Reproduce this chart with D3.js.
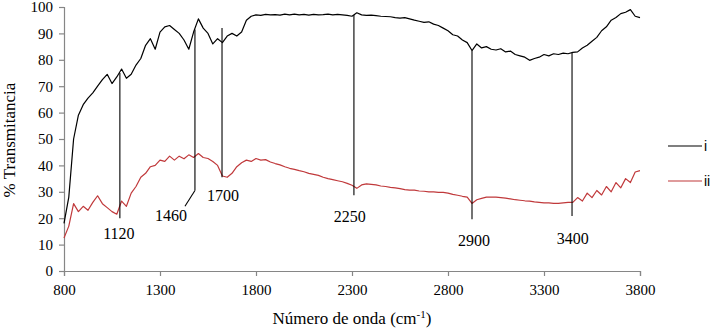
<!DOCTYPE html>
<html>
<head>
<meta charset="utf-8">
<script src="https://cdn.jsdelivr.net/npm/d3@7"></script>
<style>
    body { margin: 0; background: #fff; }
    #chart-area { width: 712px; height: 329px; }
    .serif { font-family: "Liberation Serif", "Times New Roman", "DejaVu Serif", serif; }
</style>
</head>
<body>
<div id="chart-area"></div>
<script>

// wavenumber grid (cm-1), one reading every 25
let waveNumbers = d3.range(800, 3801, 25);

// series i (black)
let seriesI = [
    18, 28, 50, 59, 63, 65.5, 67.5, 70, 72.5, 74.5,
    71, 73.5, 76.5, 73, 74.5, 78, 80.5, 85.5, 88, 84,
    90.5, 92.5, 93, 91.5, 90, 87.5, 84, 90.5, 95.5, 92,
    90, 86, 88, 86.5, 89, 90, 89, 90.5, 95, 96.5,
    97, 96.8, 97.2, 97, 97.1, 96.9, 97.3, 97, 97.3, 97,
    97.2, 96.9, 97.2, 97, 97.1, 97.3, 97, 97.2, 97, 96.8,
    96.5, 97.8, 97, 96.8, 96.9, 96.7, 96.5, 96.4, 96.3, 96,
    95.8, 96, 95.5, 95, 94.6, 94.2, 94.4, 93.5, 93, 92,
    91, 89.5, 89, 87.5, 86.5, 83.5, 86, 84.5, 85, 84,
    83.7, 84.2, 83, 83.3, 82, 81.5, 81, 79.8, 80.5, 81,
    82, 81.5, 82.3, 82, 82.5, 82.3, 82.8, 83, 84.5, 85.5,
    87, 88.5, 91, 92.5, 95, 96, 97.5, 98, 99, 96.5,
    96
];

// series ii (red)
let seriesII = [
    12.5, 17, 25.5, 22.5, 24.5, 23, 26, 28.5, 25.5, 24,
    22.5, 21.5, 26.5, 24.5, 29.5, 32, 35.5, 37, 39.5, 40,
    42, 41.5, 43.5, 42, 43.5, 42.5, 44, 43, 44.5, 43,
    42.6, 41.5, 40, 36, 35.5, 37, 39.5, 41, 42, 41.5,
    42.6, 42, 42.2, 41.3, 40.7, 40.2, 39.5, 38.9, 38.5, 38,
    37.6, 37, 36.6, 36.2, 35.5, 35, 34.6, 34.2, 33.8, 33.2,
    32.5, 31.3, 32.6, 33, 32.8, 32.6, 32.2, 32, 31.7, 31.5,
    31.2, 30.8, 30.6, 30.6, 30.3, 30.2, 30, 30, 29.8, 29.8,
    29.5, 29, 28.7, 28.3, 28, 25.6, 27, 27.5, 28, 28,
    28, 27.8, 27.6, 27.3, 27, 26.8, 26.6, 26.5, 26.2, 26,
    25.8, 25.8, 25.6, 25.6, 25.8, 26, 26, 27.8, 26.5, 29.5,
    27.8, 30.5, 28.8, 32, 30, 33.5, 31.5, 35, 33.5, 37.5,
    38
];

let seriesNames = ["i", "ii"];

let xTicks = [800, 1300, 1800, 2300, 2800, 3300, 3800];
let yTicks = [0, 10, 20, 30, 40, 50, 60, 70, 80, 90, 100];

// band markers: label, line position, top and bottom of line, label position
let bandLabels = ["1120", "1460", "1700", "2250", "2900", "3400"];
let bandX      = [1091, 1482, 1623, 2310, 2925, 3446];
let bandTop    = [75, 91.5, 92, 97, 83.5, 82.7];
let bandBottom = [20, 30.5, 35.5, 28.7, 19.6, 20.8];
let labelX     = [1086, 1357, 1628, 2288, 2935, 3450];
let labelY     = [14.3, 21, 28.7, 20.8, 11.7, 12.5];

class SpectrumChart {

    constructor(parentElement) {
        this.parentElement = parentElement;
        this.initVis();
    }

    initVis() {
        let vis = this;

        vis.width = 712;
        vis.height = 329;

        vis.svg = d3.select("#" + vis.parentElement)
            .append("svg")
            .attr("width", vis.width)
            .attr("height", vis.height);

        vis.x = d3.scaleLinear().domain([800, 3800]).range([64, 640]);
        vis.y = d3.scaleLinear().domain([0, 100]).range([271, 7]);

        let axisColor = "#868686";

        // x axis
        let xAxis = vis.svg.append("g")
            .attr("transform", "translate(0," + vis.y(0) + ")")
            .call(d3.axisBottom(vis.x).tickValues(xTicks).tickSize(5).tickPadding(8).tickFormat(d3.format("d")));

        // y axis
        let yAxis = vis.svg.append("g")
            .attr("transform", "translate(" + vis.x(800) + ",0)")
            .call(d3.axisLeft(vis.y).tickValues(yTicks).tickSize(5).tickPadding(6).tickFormat(d3.format("d")));

        [xAxis, yAxis].forEach(function(ax) {
            ax.attr("font-family", null).attr("font-size", null);
            ax.select(".domain").attr("stroke", axisColor).attr("stroke-width", 1.2);
            ax.selectAll(".tick line").attr("stroke", axisColor).attr("stroke-width", 1.2);
            ax.selectAll(".tick text")
                .attr("class", "serif")
                .attr("fill", "#000")
                .style("font-size", "15px");
        });

        // axis titles
        let xTitle = vis.svg.append("text")
            .attr("class", "serif")
            .attr("x", 352)
            .attr("y", 324)
            .attr("text-anchor", "middle")
            .style("font-size", "17px");
        xTitle.append("tspan").text("Número de onda (cm");
        xTitle.append("tspan").attr("dy", -6).style("font-size", "11px").text("-1");
        xTitle.append("tspan").attr("dy", 6).text(")");

        vis.svg.append("text")
            .attr("class", "serif")
            .attr("transform", "translate(15,140) rotate(-90)")
            .attr("text-anchor", "middle")
            .style("font-size", "17px")
            .text("% Transmitancia");

        // spectra
        vis.line = d3.line()
            .x(function(d) { return vis.x(d.wn); })
            .y(function(d) { return vis.y(d.value); });

        vis.colors = d3.scaleOrdinal().domain(seriesNames).range(["#000000", "#c0393b"]);

        let allSeries = [seriesI, seriesII].map(function(values, i) {
            return {
                name: seriesNames[i],
                points: waveNumbers.map(function(wn, j) { return {wn: wn, value: values[j]}; })
            };
        });

        vis.svg.selectAll(".spectrum")
            .data(allSeries)
            .enter()
            .append("path")
            .attr("class", "spectrum")
            .attr("fill", "none")
            .attr("stroke", function(d) { return vis.colors(d.name); })
            .attr("stroke-width", 1.2)
            .attr("stroke-linejoin", "round")
            .attr("d", function(d) { return vis.line(d.points); });

        // band markers
        let bands = bandLabels.map(function(label, i) {
            return {label: label, x: bandX[i], top: bandTop[i], bottom: bandBottom[i], lx: labelX[i], ly: labelY[i]};
        });

        vis.svg.selectAll(".band")
            .data(bands)
            .enter()
            .append("line")
            .attr("class", "band")
            .attr("x1", function(d) { return vis.x(d.x); })
            .attr("x2", function(d) { return vis.x(d.x); })
            .attr("y1", function(d) { return vis.y(d.top); })
            .attr("y2", function(d) { return vis.y(d.bottom); })
            .attr("stroke", "#000")
            .attr("stroke-width", 1.1);

        // leader from the 1460 line down to its label
        vis.svg.append("line")
            .attr("x1", vis.x(bandX[1]))
            .attr("y1", vis.y(bandBottom[1]))
            .attr("x2", vis.x(1430))
            .attr("y2", vis.y(24.5))
            .attr("stroke", "#000")
            .attr("stroke-width", 1.1);

        vis.svg.selectAll(".band-label")
            .data(bands)
            .enter()
            .append("text")
            .attr("class", "band-label serif")
            .attr("x", function(d) { return vis.x(d.lx); })
            .attr("y", function(d) { return vis.y(d.ly); })
            .attr("dy", "0.35em")
            .attr("text-anchor", "middle")
            .style("font-size", "16px")
            .text(function(d) { return d.label; });

        // legend
        let legend = vis.svg.selectAll(".legend")
            .data(seriesNames)
            .enter()
            .append("g")
            .attr("class", "legend")
            .attr("transform", function(d, i) { return "translate(668," + (146 + i * 35) + ")"; });

        legend.append("line")
            .attr("x1", 0)
            .attr("x2", 34)
            .attr("stroke", function(d) { return vis.colors(d); })
            .attr("stroke-width", 1.2);

        legend.append("text")
            .attr("x", 36)
            .attr("dy", "0.35em")
            .style("font-family", "\"Liberation Sans\", Arial, sans-serif")
            .style("font-size", "14px")
            .text(function(d) { return d; });
    }
}

new SpectrumChart("chart-area");

</script>
</body>
</html>
